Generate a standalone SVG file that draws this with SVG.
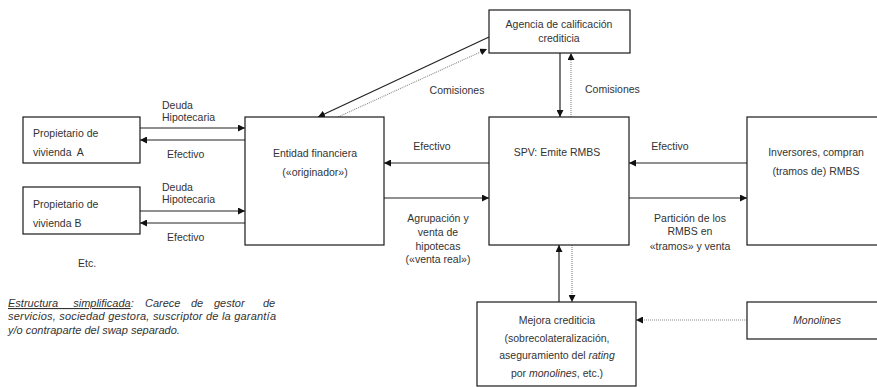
<svg xmlns="http://www.w3.org/2000/svg" width="877" height="387" viewBox="0 0 877 387">
  <style>
    .box { fill: #ffffff; stroke: #1a1a1a; stroke-width: 1.2; }
    .t { font-family: "Liberation Sans", Arial, sans-serif; font-size: 10.5px; fill: #333333; }
    .c { text-anchor: middle; }
    .it { font-style: italic; }
    .note { font-size: 11px; }
    .solid { stroke: #222222; stroke-width: 1.2; fill: none; }
    .dot { stroke: #888888; stroke-width: 1.1; stroke-dasharray: 1 1; fill: none; }
  </style>
  <defs>
    <marker id="ah" viewBox="0 0 10 10" refX="10" refY="5" markerWidth="7" markerHeight="7" markerUnits="userSpaceOnUse" orient="auto">
      <path d="M0,0 L10,5 L0,10 z" fill="#111111"/>
    </marker>
  </defs>

  <rect width="877" height="387" fill="#ffffff"/>

  <!-- connectors -->
  <g id="connectors">
    <!-- owners <-> originator -->
    <line class="solid" x1="140" y1="128" x2="245" y2="128" marker-end="url(#ah)"/>
    <line class="solid" x1="245" y1="140" x2="140" y2="140" marker-end="url(#ah)"/>
    <line class="solid" x1="140" y1="211" x2="245" y2="211" marker-end="url(#ah)"/>
    <line class="solid" x1="245" y1="223" x2="140" y2="223" marker-end="url(#ah)"/>
    <!-- originator <-> SPV -->
    <line class="solid" x1="489" y1="163" x2="384" y2="163" marker-end="url(#ah)"/>
    <line class="solid" x1="384" y1="198" x2="489" y2="198" marker-end="url(#ah)"/>
    <!-- SPV <-> investors -->
    <line class="solid" x1="747" y1="163" x2="629" y2="163" marker-end="url(#ah)"/>
    <line class="solid" x1="629" y1="198" x2="747" y2="198" marker-end="url(#ah)"/>
    <!-- rating agency links -->
    <line class="solid" x1="489" y1="37" x2="318" y2="117" marker-end="url(#ah)"/>
    <line class="dot" x1="338" y1="117" x2="487" y2="49" marker-end="url(#ah)"/>
    <line class="solid" x1="560" y1="53" x2="560" y2="117" marker-end="url(#ah)"/>
    <line class="dot" x1="571" y1="117" x2="571" y2="53" marker-end="url(#ah)"/>
    <!-- SPV <-> credit enhancement -->
    <line class="solid" x1="559" y1="302" x2="559" y2="245" marker-end="url(#ah)"/>
    <line class="dot" x1="572" y1="245" x2="572" y2="302" marker-end="url(#ah)"/>
    <!-- monolines -> credit enhancement -->
    <line class="dot" x1="747" y1="320" x2="636" y2="320" marker-end="url(#ah)"/>

    <!-- connector labels -->
    <text class="t" x="162" y="109">Deuda</text>
    <text class="t" x="162" y="121">Hipotecaria</text>
    <text class="t" x="167" y="158">Efectivo</text>
    <text class="t" x="162" y="191">Deuda</text>
    <text class="t" x="162" y="203">Hipotecaria</text>
    <text class="t" x="167" y="241">Efectivo</text>

    <text class="t c" x="432" y="150">Efectivo</text>
    <text class="t c" x="438" y="222">Agrupación y</text>
    <text class="t c" x="438" y="236">venta de</text>
    <text class="t c" x="438" y="250">hipotecas</text>
    <text class="t c" x="438" y="263">(«venta real»)</text>

    <text class="t c" x="670" y="150">Efectivo</text>
    <text class="t c" x="690" y="222">Partición de los</text>
    <text class="t c" x="690" y="235">RMBS en</text>
    <text class="t c" x="690" y="250">«tramos» y venta</text>

    <text class="t c" x="457" y="94">Comisiones</text>
    <text class="t" x="585" y="93">Comisiones</text>
  </g>

  <!-- nodes -->
  <g id="propietario-a">
    <rect class="box" x="23" y="117" width="117" height="46"/>
    <text class="t" x="33" y="137">Propietario de</text>
    <text class="t" x="33" y="156" xml:space="preserve">vivienda  A</text>
  </g>

  <g id="propietario-b">
    <rect class="box" x="23" y="187" width="117" height="47"/>
    <text class="t" x="33" y="208">Propietario de</text>
    <text class="t" x="33" y="227">vivienda B</text>
  </g>

  <g id="entidad-financiera">
    <rect class="box" x="245" y="117" width="139" height="128"/>
    <text class="t c" x="315" y="157">Entidad financiera</text>
    <text class="t c" x="315" y="176">(«originador»)</text>
  </g>

  <g id="spv">
    <rect class="box" x="489" y="117" width="140" height="128"/>
    <text class="t c" x="557" y="156">SPV: Emite RMBS</text>
  </g>

  <g id="inversores">
    <rect class="box" x="747" y="117" width="135" height="128"/>
    <text class="t c" x="816" y="156">Inversores, compran</text>
    <text class="t c" x="816" y="175">(tramos de) RMBS</text>
  </g>

  <g id="agencia">
    <rect class="box" x="489" y="10" width="141" height="43"/>
    <text class="t c" x="559" y="28">Agencia de calificación</text>
    <text class="t c" x="559" y="42">crediticia</text>
  </g>

  <g id="mejora-crediticia">
    <rect class="box" x="477" y="302" width="159" height="84"/>
    <text class="t c" x="557" y="324">Mejora crediticia</text>
    <text class="t c" x="557" y="342">(sobrecolateralización,</text>
    <text class="t c" x="557" y="359">aseguramiento del <tspan class="it">rating</tspan></text>
    <text class="t c" x="557" y="377">por <tspan class="it">monolines</tspan>, etc.)</text>
  </g>

  <g id="monolines">
    <rect class="box" x="747" y="302" width="135" height="37"/>
    <text class="t c it" x="817" y="324">Monolines</text>
  </g>

  <g id="etc">
    <text class="t" x="78" y="267">Etc.</text>
  </g>

  <!-- justified note under the owners -->
  <g id="nota">
    <text class="t it note" x="8" y="307"><tspan text-decoration="underline" word-spacing="12">Estructura simplificada</tspan>:<tspan x="145">Carece</tspan><tspan x="191">de</tspan><tspan x="214">gestor</tspan><tspan x="263">de</tspan></text>
    <text class="t it note" x="8" y="320" textLength="268" lengthAdjust="spacing">servicios, sociedad gestora, suscriptor de la garantía</text>
    <text class="t it note" x="8" y="334">y/o contraparte del swap separado.</text>
  </g>
</svg>
